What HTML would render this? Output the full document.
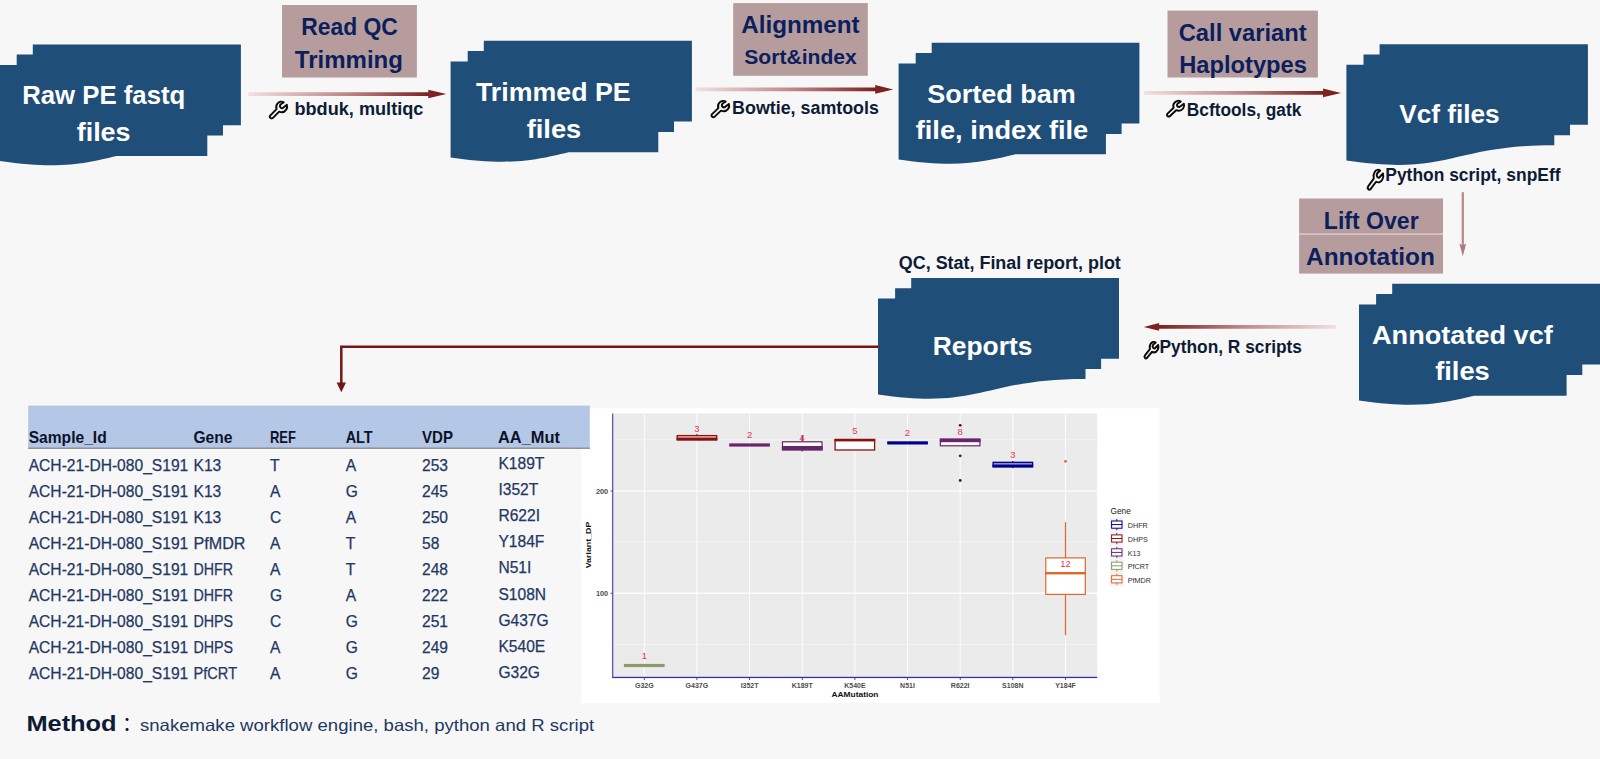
<!DOCTYPE html>
<html lang="en"><head><meta charset="utf-8"><title>Workflow</title>
<style>html,body{margin:0;padding:0;background:#f7f7f7;}svg{display:block}</style></head>
<body>
<svg width="1600" height="759" viewBox="0 0 1600 759" font-family="'Liberation Sans', sans-serif">
<defs><linearGradient id="gr" x1="0" y1="0" x2="1" y2="0"><stop offset="0" stop-color="#f1e0e0"/><stop offset="0.5" stop-color="#bd8686"/><stop offset="0.9" stop-color="#7f2424"/><stop offset="1" stop-color="#7b1c1c"/></linearGradient><linearGradient id="gl" x1="1" y1="0" x2="0" y2="0"><stop offset="0" stop-color="#f1e0e0"/><stop offset="0.5" stop-color="#bd8686"/><stop offset="0.9" stop-color="#7f2424"/><stop offset="1" stop-color="#7b1c1c"/></linearGradient></defs>
<rect width="1600" height="759" fill="#f7f7f7"/>
<path d="M-0.4,161.0 C103.5,176.5 103.5,145.5 207.3,145.5 L207.3,135.6 L223.0,135.6 L223.0,125.2 L240.9,125.2 L240.9,44.4 L32.8,44.4 L32.8,54.6 L16.7,54.6 L16.7,65.0 L-0.4,65.0 Z M-0.4,65.0 L-0.4,155.9 L207.3,155.9 L207.3,65.0 Z" fill="#1f4e79" fill-rule="nonzero"/>
<path d="M450.6,157.4 C554.5,172.9 554.5,141.9 658.3,141.9 L658.3,132.0 L674.0,132.0 L674.0,121.6 L691.9,121.6 L691.9,40.8 L483.8,40.8 L483.8,51.0 L467.7,51.0 L467.7,61.4 L450.6,61.4 Z M450.6,61.4 L450.6,152.3 L658.3,152.3 L658.3,61.4 Z" fill="#1f4e79" fill-rule="nonzero"/>
<path d="M898.6,159.4 C1002.3,174.9 1002.3,143.9 1105.9,143.9 L1105.9,134.0 L1121.6,134.0 L1121.6,123.6 L1139.4,123.6 L1139.4,42.8 L931.7,42.8 L931.7,53.0 L915.7,53.0 L915.7,63.4 L898.6,63.4 Z M898.6,63.4 L898.6,154.3 L1105.9,154.3 L1105.9,63.4 Z" fill="#1f4e79" fill-rule="nonzero"/>
<path d="M1346.4,160.6 C1450.4,176.1 1450.4,145.2 1554.3,145.2 L1554.3,135.2 L1570.0,135.2 L1570.0,124.8 L1587.9,124.8 L1587.9,44.2 L1379.6,44.2 L1379.6,54.4 L1363.5,54.4 L1363.5,64.8 L1346.4,64.8 Z" fill="#1f4e79" fill-rule="nonzero"/>
<path d="M878.0,394.5 C981.8,409.9 981.8,379.0 1085.5,379.0 L1085.5,369.1 L1101.1,369.1 L1101.1,358.7 L1119.0,358.7 L1119.0,278.1 L911.2,278.1 L911.2,288.2 L895.1,288.2 L895.1,298.6 L878.0,298.6 Z" fill="#1f4e79" fill-rule="nonzero"/>
<path d="M1359.0,400.5 C1462.8,416.0 1462.8,385.0 1566.6,385.0 L1566.6,375.0 L1582.3,375.0 L1582.3,364.6 L1600.2,364.6 L1600.2,283.8 L1392.2,283.8 L1392.2,293.9 L1376.1,293.9 L1376.1,304.4 L1359.0,304.4 Z M1359.0,304.4 L1359.0,395.7 L1566.6,395.7 L1566.6,304.4 Z" fill="#1f4e79" fill-rule="nonzero"/>
<text x="22.2" y="104.0" font-size="26" font-weight="bold" fill="#ffffff" text-anchor="start" textLength="163.1" lengthAdjust="spacingAndGlyphs">Raw PE fastq</text>
<text x="76.7" y="140.6" font-size="26" font-weight="bold" fill="#ffffff" text-anchor="start" textLength="53.9" lengthAdjust="spacingAndGlyphs">files</text>
<text x="476.0" y="101.0" font-size="26" font-weight="bold" fill="#ffffff" text-anchor="start" textLength="154.6" lengthAdjust="spacingAndGlyphs">Trimmed PE</text>
<text x="526.7" y="137.5" font-size="26" font-weight="bold" fill="#ffffff" text-anchor="start" textLength="54.6" lengthAdjust="spacingAndGlyphs">files</text>
<text x="927.2" y="102.8" font-size="26" font-weight="bold" fill="#ffffff" text-anchor="start" textLength="148.6" lengthAdjust="spacingAndGlyphs">Sorted bam</text>
<text x="915.7" y="139.1" font-size="26" font-weight="bold" fill="#ffffff" text-anchor="start" textLength="172.6" lengthAdjust="spacingAndGlyphs">file, index file</text>
<text x="1399.2" y="122.8" font-size="26" font-weight="bold" fill="#ffffff" text-anchor="start" textLength="100.5" lengthAdjust="spacingAndGlyphs">Vcf files</text>
<text x="932.7" y="355.4" font-size="26" font-weight="bold" fill="#ffffff" text-anchor="start" textLength="99.7" lengthAdjust="spacingAndGlyphs">Reports</text>
<text x="1372.0" y="343.6" font-size="26" font-weight="bold" fill="#ffffff" text-anchor="start" textLength="180.8" lengthAdjust="spacingAndGlyphs">Annotated vcf</text>
<text x="1435.2" y="380.1" font-size="26" font-weight="bold" fill="#ffffff" text-anchor="start" textLength="54.6" lengthAdjust="spacingAndGlyphs">files</text>
<rect x="282.0" y="5.0" width="134.9" height="72.5" fill="#b79c9e"/>
<text x="301.3" y="34.7" font-size="23" font-weight="bold" fill="#0a1f5c" text-anchor="start" textLength="96.6" lengthAdjust="spacingAndGlyphs">Read QC</text>
<text x="294.8" y="67.7" font-size="23" font-weight="bold" fill="#0a1f5c" text-anchor="start" textLength="108.1" lengthAdjust="spacingAndGlyphs">Trimming</text>
<rect x="733.2" y="3.1" width="134.6" height="72.7" fill="#b79c9e"/>
<text x="741.2" y="33.3" font-size="23" font-weight="bold" fill="#0a1f5c" text-anchor="start" textLength="118.5" lengthAdjust="spacingAndGlyphs">Alignment</text>
<text x="744.3" y="63.6" font-size="20.5" font-weight="bold" fill="#0a1f5c" text-anchor="start" textLength="112.5" lengthAdjust="spacingAndGlyphs">Sort&amp;index</text>
<rect x="1167.5" y="10.6" width="150.4" height="66.9" fill="#b79c9e"/>
<text x="1178.7" y="40.5" font-size="23" font-weight="bold" fill="#0a1f5c" text-anchor="start" textLength="128.0" lengthAdjust="spacingAndGlyphs">Call variant</text>
<text x="1179.2" y="73.3" font-size="23" font-weight="bold" fill="#0a1f5c" text-anchor="start" textLength="127.7" lengthAdjust="spacingAndGlyphs">Haplotypes</text>
<rect x="1299.1" y="198.5" width="143.9" height="75.1" fill="#b79c9e"/>
<rect x="1299.1" y="233.4" width="143.9" height="1.4" fill="#dccfd0"/>
<text x="1323.8" y="228.5" font-size="23" font-weight="bold" fill="#0a1f5c" text-anchor="start" textLength="94.9" lengthAdjust="spacingAndGlyphs">Lift Over</text>
<text x="1306.0" y="264.7" font-size="23" font-weight="bold" fill="#0a1f5c" text-anchor="start" textLength="128.9" lengthAdjust="spacingAndGlyphs">Annotation</text>
<path d="M248.4,92.14999999999999 L428.3,92.14999999999999 L428.3,89.75 L446.3,94.05 L428.3,98.35 L428.3,95.95 L248.4,95.95 Z" fill="url(#gr)"/>
<path d="M695.6,87.5 L875.2,87.5 L875.2,85.10000000000001 L893.2,89.4 L875.2,93.7 L875.2,91.30000000000001 L695.6,91.30000000000001 Z" fill="url(#gr)"/>
<path d="M1144.1,91.0 L1323,91.0 L1323,88.60000000000001 L1341,92.9 L1323,97.2 L1323,94.80000000000001 L1144.1,94.80000000000001 Z" fill="url(#gr)"/>
<path d="M1335.8,325.05 L1159.15,325.05 L1159.15,323.05 L1143.75,326.95 L1159.15,330.84999999999997 L1159.15,328.84999999999997 L1335.8,328.84999999999997 Z" fill="url(#gl)"/>
<path d="M1462.8,192.2 L1462.8,246" stroke="#ba8c8e" stroke-width="2.3" fill="none"/>
<path d="M1459.4,243.6 L1462.8,256.3 L1466.2,243.6 L1462.8,245.6 Z" fill="#ab7b7d"/>
<path d="M878.5,346.7 L341.3,346.7 L341.3,384" stroke="#751616" stroke-width="2.5" fill="none"/>
<path d="M336.6,382.5 L341.3,392.3 L346,382.5 Z" fill="#751616"/>
<g transform="translate(269.0,100.7) scale(0.9550,0.9550)" fill="none" stroke="#0b0b0b" stroke-width="1.95" stroke-linejoin="round" stroke-linecap="round"><path vector-effect="non-scaling-stroke" d="M15.4,1.8 C13.4,0.4 10.6,1 9,2.9 C7.5,4.6 7.2,6.7 7.9,8.8 L1.5,15.3 A1.87,1.87 0 0 0 4.15,18 L10.6,11.5 C13.4,12.7 16.3,11.8 17.9,9.6 C19.1,8 19.3,6 18.7,4.3 L14.1,8 C12.7,8.1 11.5,7.1 11.4,5.6 C11.4,4.3 12.7,3.2 15.4,1.8 Z"/></g>
<text x="294.4" y="114.5" font-size="17.5" font-weight="bold" fill="#0d1b36" text-anchor="start" textLength="129.0" lengthAdjust="spacingAndGlyphs">bbduk, multiqc</text>
<g transform="translate(710.6,100.0) scale(0.9800,0.9250)" fill="none" stroke="#0b0b0b" stroke-width="1.95" stroke-linejoin="round" stroke-linecap="round"><path vector-effect="non-scaling-stroke" d="M15.4,1.8 C13.4,0.4 10.6,1 9,2.9 C7.5,4.6 7.2,6.7 7.9,8.8 L1.5,15.3 A1.87,1.87 0 0 0 4.15,18 L10.6,11.5 C13.4,12.7 16.3,11.8 17.9,9.6 C19.1,8 19.3,6 18.7,4.3 L14.1,8 C12.7,8.1 11.5,7.1 11.4,5.6 C11.4,4.3 12.7,3.2 15.4,1.8 Z"/></g>
<text x="732.1" y="114.4" font-size="17.5" font-weight="bold" fill="#0d1b36" text-anchor="start" textLength="146.8" lengthAdjust="spacingAndGlyphs">Bowtie, samtools</text>
<g transform="translate(1166.1,99.9) scale(0.9500,0.8950)" fill="none" stroke="#0b0b0b" stroke-width="1.95" stroke-linejoin="round" stroke-linecap="round"><path vector-effect="non-scaling-stroke" d="M15.4,1.8 C13.4,0.4 10.6,1 9,2.9 C7.5,4.6 7.2,6.7 7.9,8.8 L1.5,15.3 A1.87,1.87 0 0 0 4.15,18 L10.6,11.5 C13.4,12.7 16.3,11.8 17.9,9.6 C19.1,8 19.3,6 18.7,4.3 L14.1,8 C12.7,8.1 11.5,7.1 11.4,5.6 C11.4,4.3 12.7,3.2 15.4,1.8 Z"/></g>
<text x="1186.8" y="115.5" font-size="17.5" font-weight="bold" fill="#0d1b36" text-anchor="start" textLength="114.5" lengthAdjust="spacingAndGlyphs">Bcftools, gatk</text>
<g transform="translate(1367.0,168.6) scale(0.8550,1.1450)" fill="none" stroke="#0b0b0b" stroke-width="1.95" stroke-linejoin="round" stroke-linecap="round"><path vector-effect="non-scaling-stroke" d="M15.4,1.8 C13.4,0.4 10.6,1 9,2.9 C7.5,4.6 7.2,6.7 7.9,8.8 L1.5,15.3 A1.87,1.87 0 0 0 4.15,18 L10.6,11.5 C13.4,12.7 16.3,11.8 17.9,9.6 C19.1,8 19.3,6 18.7,4.3 L14.1,8 C12.7,8.1 11.5,7.1 11.4,5.6 C11.4,4.3 12.7,3.2 15.4,1.8 Z"/></g>
<text x="1385.3" y="180.9" font-size="17.5" font-weight="bold" fill="#0d1b36" text-anchor="start" textLength="175.2" lengthAdjust="spacingAndGlyphs">Python script, snpEff</text>
<g transform="translate(1143.8,340.9) scale(0.7700,0.9450)" fill="none" stroke="#0b0b0b" stroke-width="1.95" stroke-linejoin="round" stroke-linecap="round"><path vector-effect="non-scaling-stroke" d="M15.4,1.8 C13.4,0.4 10.6,1 9,2.9 C7.5,4.6 7.2,6.7 7.9,8.8 L1.5,15.3 A1.87,1.87 0 0 0 4.15,18 L10.6,11.5 C13.4,12.7 16.3,11.8 17.9,9.6 C19.1,8 19.3,6 18.7,4.3 L14.1,8 C12.7,8.1 11.5,7.1 11.4,5.6 C11.4,4.3 12.7,3.2 15.4,1.8 Z"/></g>
<text x="1159.5" y="352.9" font-size="17.5" font-weight="bold" fill="#0d1b36" text-anchor="start" textLength="142.5" lengthAdjust="spacingAndGlyphs">Python, R scripts</text>
<text x="898.8" y="269.2" font-size="17.5" font-weight="bold" fill="#0d1b36" text-anchor="start" textLength="222.0" lengthAdjust="spacingAndGlyphs">QC, Stat, Final report, plot</text>
<g font-family="'Liberation Sans', sans-serif">
<rect x="581.4" y="408.2" width="578.1" height="294.9" fill="#ffffff"/>
<rect x="613.7" y="413.5" width="483.5" height="263.5" fill="#ebebeb"/>
<rect x="613.7" y="644.0" width="483.5" height="0.6" fill="#f7f7f7"/>
<rect x="613.7" y="541.8" width="483.5" height="0.6" fill="#f7f7f7"/>
<rect x="613.7" y="439.5" width="483.5" height="0.6" fill="#f7f7f7"/>
<rect x="613.7" y="592.6" width="483.5" height="1.2" fill="#ffffff"/>
<rect x="613.7" y="490.4" width="483.5" height="1.2" fill="#ffffff"/>
<rect x="643.85" y="413.5" width="0.9" height="263.5" fill="#ffffff"/>
<rect x="696.50" y="413.5" width="0.9" height="263.5" fill="#ffffff"/>
<rect x="749.15" y="413.5" width="0.9" height="263.5" fill="#ffffff"/>
<rect x="801.80" y="413.5" width="0.9" height="263.5" fill="#ffffff"/>
<rect x="854.45" y="413.5" width="0.9" height="263.5" fill="#ffffff"/>
<rect x="907.10" y="413.5" width="0.9" height="263.5" fill="#ffffff"/>
<rect x="959.75" y="413.5" width="0.9" height="263.5" fill="#ffffff"/>
<rect x="1012.40" y="413.5" width="0.9" height="263.5" fill="#ffffff"/>
<rect x="1065.05" y="413.5" width="0.9" height="263.5" fill="#ffffff"/>
<rect x="612.2" y="413.5" width="1.1" height="264.5" fill="#3232a4"/>
<rect x="612.5" y="676.8" width="484.7" height="1.3" fill="#3232a4"/>
<rect x="610.5" y="592.8" width="2" height="0.8" fill="#333333"/>
<rect x="610.5" y="490.6" width="2" height="0.8" fill="#333333"/>
<rect x="643.9" y="678.0" width="0.8" height="2" fill="#333333"/>
<rect x="696.5" y="678.0" width="0.8" height="2" fill="#333333"/>
<rect x="749.2" y="678.0" width="0.8" height="2" fill="#333333"/>
<rect x="801.9" y="678.0" width="0.8" height="2" fill="#333333"/>
<rect x="854.5" y="678.0" width="0.8" height="2" fill="#333333"/>
<rect x="907.1" y="678.0" width="0.8" height="2" fill="#333333"/>
<rect x="959.8" y="678.0" width="0.8" height="2" fill="#333333"/>
<rect x="1012.4" y="678.0" width="0.8" height="2" fill="#333333"/>
<rect x="1065.1" y="678.0" width="0.8" height="2" fill="#333333"/>
<text x="608.2" y="596.1" font-size="8" font-weight="bold" fill="#4d4d4d" text-anchor="end" textLength="12.3" lengthAdjust="spacingAndGlyphs">100</text>
<text x="608.2" y="493.9" font-size="8" font-weight="bold" fill="#4d4d4d" text-anchor="end" textLength="12.3" lengthAdjust="spacingAndGlyphs">200</text>
<text x="644.3" y="687.6" font-size="7" font-weight="bold" fill="#4d4d4d" text-anchor="middle">G32G</text>
<text x="696.9" y="687.6" font-size="7" font-weight="bold" fill="#4d4d4d" text-anchor="middle">G437G</text>
<text x="749.6" y="687.6" font-size="7" font-weight="bold" fill="#4d4d4d" text-anchor="middle">I352T</text>
<text x="802.2" y="687.6" font-size="7" font-weight="bold" fill="#4d4d4d" text-anchor="middle">K189T</text>
<text x="854.9" y="687.6" font-size="7" font-weight="bold" fill="#4d4d4d" text-anchor="middle">K540E</text>
<text x="907.5" y="687.6" font-size="7" font-weight="bold" fill="#4d4d4d" text-anchor="middle">N51I</text>
<text x="960.2" y="687.6" font-size="7" font-weight="bold" fill="#4d4d4d" text-anchor="middle">R622I</text>
<text x="1012.8" y="687.6" font-size="7" font-weight="bold" fill="#4d4d4d" text-anchor="middle">S108N</text>
<text x="1065.5" y="687.6" font-size="7" font-weight="bold" fill="#4d4d4d" text-anchor="middle">Y184F</text>
<text x="855.0" y="696.8" font-size="8" font-weight="bold" fill="#111" text-anchor="middle" textLength="47.0" lengthAdjust="spacingAndGlyphs">AAMutation</text>
<text transform="translate(591.3,545) rotate(-90)" font-size="8" font-weight="bold" fill="#111" text-anchor="middle" textLength="46.6" lengthAdjust="spacingAndGlyphs">Variant_DP</text>
<rect x="623.9" y="663.9" width="40.7" height="3.2" fill="#8a9a6b"/>
<text x="644.3" y="658.8" font-size="9.5" font-weight="normal" fill="#f03044" text-anchor="middle">1</text>
<rect x="696.4" y="433.8" width="1" height="2" fill="#8b1111"/>
<rect x="677.2" y="435.6" width="39.5" height="4.4" fill="#e9c8c8" stroke="#8b1111" stroke-width="1.3"/>
<rect x="676.6" y="437.6" width="40.7" height="2.6" fill="#8b1111"/>
<text x="696.9" y="431.8" font-size="9.5" font-weight="normal" fill="#f03044" text-anchor="middle">3</text>
<rect x="729.2" y="443.4" width="40.7" height="3.2" fill="#68246d"/>
<text x="749.6" y="438.0" font-size="9.5" font-weight="normal" fill="#f03044" text-anchor="middle">2</text>
<rect x="801.6" y="435" width="1.2" height="16.6" fill="#68246d"/>
<rect x="782.5" y="441.8" width="39.5" height="8" fill="#ffffff" stroke="#68246d" stroke-width="1.2"/>
<rect x="781.9" y="446" width="40.7" height="4.4" fill="#68246d"/>
<text x="802.2" y="441.0" font-size="9.5" font-weight="normal" fill="#f03044" text-anchor="middle">4</text>
<rect x="835.1" y="439.6" width="39.5" height="10.4" fill="#ffffff" stroke="#8b1111" stroke-width="1.3"/>
<rect x="834.5" y="438.8" width="40.7" height="2.6" fill="#8b1111"/>
<text x="854.9" y="434.0" font-size="9.5" font-weight="normal" fill="#f03044" text-anchor="middle">5</text>
<rect x="887.2" y="441.3" width="40.7" height="3.2" fill="#00008b"/>
<text x="907.5" y="436.2" font-size="9.5" font-weight="normal" fill="#f03044" text-anchor="middle">2</text>
<rect x="940.4" y="439.2" width="39.5" height="6.6" fill="#ffffff" stroke="#68246d" stroke-width="1.2"/>
<rect x="939.8" y="438.6" width="40.7" height="3.6" fill="#68246d"/>
<circle cx="960.2" cy="425.3" r="1.4" fill="#3b1a3e"/>
<circle cx="960.2" cy="455.8" r="1.4" fill="#3b1a3e"/>
<circle cx="960.2" cy="480.5" r="1.4" fill="#3b1a3e"/>
<text x="960.2" y="434.6" font-size="9.5" font-weight="normal" fill="#f03044" text-anchor="middle">8</text>
<rect x="1012.2" y="461" width="1.2" height="7.2" fill="#00008b"/>
<rect x="993.1" y="462.3" width="39.5" height="4.6" fill="#8d8dd0" stroke="#00008b" stroke-width="1.3"/>
<rect x="992.5" y="464.6" width="40.7" height="2.6" fill="#00008b"/>
<text x="1012.8" y="458.3" font-size="9.5" font-weight="normal" fill="#f03044" text-anchor="middle">3</text>
<rect x="1064.9" y="522.2" width="1.2" height="113" fill="#e0672a"/>
<rect x="1045.8" y="557.9" width="39.5" height="36.5" fill="#ffffff" stroke="#e0672a" stroke-width="1.2"/>
<rect x="1045.2" y="572" width="40.7" height="2.4" fill="#e0672a"/>
<circle cx="1065.5" cy="461.3" r="1.4" fill="#e0672a"/>
<text x="1065.5" y="566.5" font-size="9.5" font-weight="normal" fill="#f03044" text-anchor="middle">12</text>
<text x="1110.4" y="513.5" font-size="8.2" font-weight="normal" fill="#222" text-anchor="start" textLength="20.5" lengthAdjust="spacingAndGlyphs">Gene</text>
<rect x="1110" y="517.8" width="13.6" height="13.6" fill="#f2f2f2"/>
<rect x="1116.35" y="519.0" width="0.9" height="11.2" fill="#00008b"/>
<rect x="1111.6" y="521.0" width="10.4" height="7.2" fill="#ffffff" stroke="#00008b" stroke-width="1"/>
<rect x="1111.6" y="524.1" width="10.4" height="1" fill="#00008b"/>
<text x="1127.8" y="528.0" font-size="7.2" font-weight="normal" fill="#2e2e2e" text-anchor="start">DHFR</text>
<rect x="1110" y="531.7" width="13.6" height="13.6" fill="#f2f2f2"/>
<rect x="1116.35" y="532.9" width="0.9" height="11.2" fill="#8b1111"/>
<rect x="1111.6" y="534.9" width="10.4" height="7.2" fill="#ffffff" stroke="#8b1111" stroke-width="1"/>
<rect x="1111.6" y="538.0" width="10.4" height="1" fill="#8b1111"/>
<text x="1127.8" y="541.9" font-size="7.2" font-weight="normal" fill="#2e2e2e" text-anchor="start">DHPS</text>
<rect x="1110" y="545.6" width="13.6" height="13.6" fill="#f2f2f2"/>
<rect x="1116.35" y="546.8" width="0.9" height="11.2" fill="#68246d"/>
<rect x="1111.6" y="548.8" width="10.4" height="7.2" fill="#ffffff" stroke="#68246d" stroke-width="1"/>
<rect x="1111.6" y="551.9" width="10.4" height="1" fill="#68246d"/>
<text x="1127.8" y="555.8" font-size="7.2" font-weight="normal" fill="#2e2e2e" text-anchor="start">K13</text>
<rect x="1110" y="559.0" width="13.6" height="13.6" fill="#f2f2f2"/>
<rect x="1116.35" y="560.2" width="0.9" height="11.2" fill="#8a9a6b"/>
<rect x="1111.6" y="562.2" width="10.4" height="7.2" fill="#ffffff" stroke="#8a9a6b" stroke-width="1"/>
<rect x="1111.6" y="565.3" width="10.4" height="1" fill="#8a9a6b"/>
<text x="1127.8" y="569.2" font-size="7.2" font-weight="normal" fill="#2e2e2e" text-anchor="start">PfCRT</text>
<rect x="1110" y="572.5" width="13.6" height="13.6" fill="#f2f2f2"/>
<rect x="1116.35" y="573.7" width="0.9" height="11.2" fill="#e0672a"/>
<rect x="1111.6" y="575.7" width="10.4" height="7.2" fill="#ffffff" stroke="#e0672a" stroke-width="1"/>
<rect x="1111.6" y="578.8" width="10.4" height="1" fill="#e0672a"/>
<text x="1127.8" y="582.7" font-size="7.2" font-weight="normal" fill="#2e2e2e" text-anchor="start">PfMDR</text>
</g>
<rect x="28.2" y="405.6" width="561.6" height="42.8" fill="#b4c7e7"/>
<rect x="28.2" y="447.6" width="561.6" height="1.2" fill="#7f7f7f"/>
<text x="28.7" y="442.9" font-size="16.3" font-weight="bold" fill="#0d1326" text-anchor="start" textLength="78.0" lengthAdjust="spacingAndGlyphs">Sample_Id</text>
<text x="193.5" y="442.9" font-size="16.3" font-weight="bold" fill="#0d1326" text-anchor="start" textLength="39.0" lengthAdjust="spacingAndGlyphs">Gene</text>
<text x="269.9" y="442.9" font-size="16.3" font-weight="bold" fill="#0d1326" text-anchor="start" textLength="26.0" lengthAdjust="spacingAndGlyphs">REF</text>
<text x="345.7" y="442.9" font-size="16.3" font-weight="bold" fill="#0d1326" text-anchor="start" textLength="27.0" lengthAdjust="spacingAndGlyphs">ALT</text>
<text x="422.0" y="442.9" font-size="16.3" font-weight="bold" fill="#0d1326" text-anchor="start" textLength="31.0" lengthAdjust="spacingAndGlyphs">VDP</text>
<text x="498.0" y="442.9" font-size="16.3" font-weight="bold" fill="#0d1326" text-anchor="start" textLength="62.0" lengthAdjust="spacingAndGlyphs">AA_Mut</text>
<g stroke="#1f3864" stroke-width="0.25">
<text x="28.7" y="471.0" font-size="15.6" font-weight="normal" fill="#1f3864" text-anchor="start" textLength="159.6" lengthAdjust="spacingAndGlyphs">ACH-21-DH-080_S191</text>
<text x="193.5" y="471.0" font-size="15.6" font-weight="normal" fill="#1f3864" text-anchor="start">K13</text>
<text x="269.9" y="471.0" font-size="15.6" font-weight="normal" fill="#1f3864" text-anchor="start">T</text>
<text x="345.7" y="471.0" font-size="15.6" font-weight="normal" fill="#1f3864" text-anchor="start">A</text>
<text x="422.0" y="471.0" font-size="15.6" font-weight="normal" fill="#1f3864" text-anchor="start">253</text>
<text x="498.4" y="469.2" font-size="15.6" font-weight="normal" fill="#1f3864" text-anchor="start">K189T</text>
<text x="28.7" y="497.1" font-size="15.6" font-weight="normal" fill="#1f3864" text-anchor="start" textLength="159.6" lengthAdjust="spacingAndGlyphs">ACH-21-DH-080_S191</text>
<text x="193.5" y="497.1" font-size="15.6" font-weight="normal" fill="#1f3864" text-anchor="start">K13</text>
<text x="269.9" y="497.1" font-size="15.6" font-weight="normal" fill="#1f3864" text-anchor="start">A</text>
<text x="345.7" y="497.1" font-size="15.6" font-weight="normal" fill="#1f3864" text-anchor="start">G</text>
<text x="422.0" y="497.1" font-size="15.6" font-weight="normal" fill="#1f3864" text-anchor="start">245</text>
<text x="498.4" y="495.2" font-size="15.6" font-weight="normal" fill="#1f3864" text-anchor="start">I352T</text>
<text x="28.7" y="523.1" font-size="15.6" font-weight="normal" fill="#1f3864" text-anchor="start" textLength="159.6" lengthAdjust="spacingAndGlyphs">ACH-21-DH-080_S191</text>
<text x="193.5" y="523.1" font-size="15.6" font-weight="normal" fill="#1f3864" text-anchor="start">K13</text>
<text x="269.9" y="523.1" font-size="15.6" font-weight="normal" fill="#1f3864" text-anchor="start">C</text>
<text x="345.7" y="523.1" font-size="15.6" font-weight="normal" fill="#1f3864" text-anchor="start">A</text>
<text x="422.0" y="523.1" font-size="15.6" font-weight="normal" fill="#1f3864" text-anchor="start">250</text>
<text x="498.4" y="521.3" font-size="15.6" font-weight="normal" fill="#1f3864" text-anchor="start">R622I</text>
<text x="28.7" y="549.1" font-size="15.6" font-weight="normal" fill="#1f3864" text-anchor="start" textLength="159.6" lengthAdjust="spacingAndGlyphs">ACH-21-DH-080_S191</text>
<text x="193.5" y="549.1" font-size="15.6" font-weight="normal" fill="#1f3864" text-anchor="start" textLength="52.0" lengthAdjust="spacingAndGlyphs">PfMDR</text>
<text x="269.9" y="549.1" font-size="15.6" font-weight="normal" fill="#1f3864" text-anchor="start">A</text>
<text x="345.7" y="549.1" font-size="15.6" font-weight="normal" fill="#1f3864" text-anchor="start">T</text>
<text x="422.0" y="549.1" font-size="15.6" font-weight="normal" fill="#1f3864" text-anchor="start">58</text>
<text x="498.4" y="547.4" font-size="15.6" font-weight="normal" fill="#1f3864" text-anchor="start">Y184F</text>
<text x="28.7" y="575.2" font-size="15.6" font-weight="normal" fill="#1f3864" text-anchor="start" textLength="159.6" lengthAdjust="spacingAndGlyphs">ACH-21-DH-080_S191</text>
<text x="193.5" y="575.2" font-size="15.6" font-weight="normal" fill="#1f3864" text-anchor="start" textLength="39.6" lengthAdjust="spacingAndGlyphs">DHFR</text>
<text x="269.9" y="575.2" font-size="15.6" font-weight="normal" fill="#1f3864" text-anchor="start">A</text>
<text x="345.7" y="575.2" font-size="15.6" font-weight="normal" fill="#1f3864" text-anchor="start">T</text>
<text x="422.0" y="575.2" font-size="15.6" font-weight="normal" fill="#1f3864" text-anchor="start">248</text>
<text x="498.4" y="573.4" font-size="15.6" font-weight="normal" fill="#1f3864" text-anchor="start">N51I</text>
<text x="28.7" y="601.2" font-size="15.6" font-weight="normal" fill="#1f3864" text-anchor="start" textLength="159.6" lengthAdjust="spacingAndGlyphs">ACH-21-DH-080_S191</text>
<text x="193.5" y="601.2" font-size="15.6" font-weight="normal" fill="#1f3864" text-anchor="start" textLength="39.6" lengthAdjust="spacingAndGlyphs">DHFR</text>
<text x="269.9" y="601.2" font-size="15.6" font-weight="normal" fill="#1f3864" text-anchor="start">G</text>
<text x="345.7" y="601.2" font-size="15.6" font-weight="normal" fill="#1f3864" text-anchor="start">A</text>
<text x="422.0" y="601.2" font-size="15.6" font-weight="normal" fill="#1f3864" text-anchor="start">222</text>
<text x="498.4" y="599.5" font-size="15.6" font-weight="normal" fill="#1f3864" text-anchor="start">S108N</text>
<text x="28.7" y="627.3" font-size="15.6" font-weight="normal" fill="#1f3864" text-anchor="start" textLength="159.6" lengthAdjust="spacingAndGlyphs">ACH-21-DH-080_S191</text>
<text x="193.5" y="627.3" font-size="15.6" font-weight="normal" fill="#1f3864" text-anchor="start" textLength="39.6" lengthAdjust="spacingAndGlyphs">DHPS</text>
<text x="269.9" y="627.3" font-size="15.6" font-weight="normal" fill="#1f3864" text-anchor="start">C</text>
<text x="345.7" y="627.3" font-size="15.6" font-weight="normal" fill="#1f3864" text-anchor="start">G</text>
<text x="422.0" y="627.3" font-size="15.6" font-weight="normal" fill="#1f3864" text-anchor="start">251</text>
<text x="498.4" y="625.5" font-size="15.6" font-weight="normal" fill="#1f3864" text-anchor="start">G437G</text>
<text x="28.7" y="653.4" font-size="15.6" font-weight="normal" fill="#1f3864" text-anchor="start" textLength="159.6" lengthAdjust="spacingAndGlyphs">ACH-21-DH-080_S191</text>
<text x="193.5" y="653.4" font-size="15.6" font-weight="normal" fill="#1f3864" text-anchor="start" textLength="39.6" lengthAdjust="spacingAndGlyphs">DHPS</text>
<text x="269.9" y="653.4" font-size="15.6" font-weight="normal" fill="#1f3864" text-anchor="start">A</text>
<text x="345.7" y="653.4" font-size="15.6" font-weight="normal" fill="#1f3864" text-anchor="start">G</text>
<text x="422.0" y="653.4" font-size="15.6" font-weight="normal" fill="#1f3864" text-anchor="start">249</text>
<text x="498.4" y="651.6" font-size="15.6" font-weight="normal" fill="#1f3864" text-anchor="start">K540E</text>
<text x="28.7" y="679.4" font-size="15.6" font-weight="normal" fill="#1f3864" text-anchor="start" textLength="159.6" lengthAdjust="spacingAndGlyphs">ACH-21-DH-080_S191</text>
<text x="193.5" y="679.4" font-size="15.6" font-weight="normal" fill="#1f3864" text-anchor="start" textLength="43.6" lengthAdjust="spacingAndGlyphs">PfCRT</text>
<text x="269.9" y="679.4" font-size="15.6" font-weight="normal" fill="#1f3864" text-anchor="start">A</text>
<text x="345.7" y="679.4" font-size="15.6" font-weight="normal" fill="#1f3864" text-anchor="start">G</text>
<text x="422.0" y="679.4" font-size="15.6" font-weight="normal" fill="#1f3864" text-anchor="start">29</text>
<text x="498.4" y="677.6" font-size="15.6" font-weight="normal" fill="#1f3864" text-anchor="start">G32G</text>
</g>
<text x="26.4" y="730.9" font-size="21.8" font-weight="bold" fill="#0d1b36" text-anchor="start" textLength="90.2" lengthAdjust="spacingAndGlyphs">Method</text>
<text x="122.0" y="730.9" font-size="20" font-weight="normal" fill="#0d1b36" text-anchor="start" font-family="'Liberation Sans', 'Noto Sans CJK SC', sans-serif">：</text>
<text x="140.0" y="730.9" font-size="16.5" font-weight="normal" fill="#1f3864" text-anchor="start" textLength="454.2" lengthAdjust="spacingAndGlyphs">snakemake workflow engine, bash, python and R script</text>
</svg>
</body></html>
